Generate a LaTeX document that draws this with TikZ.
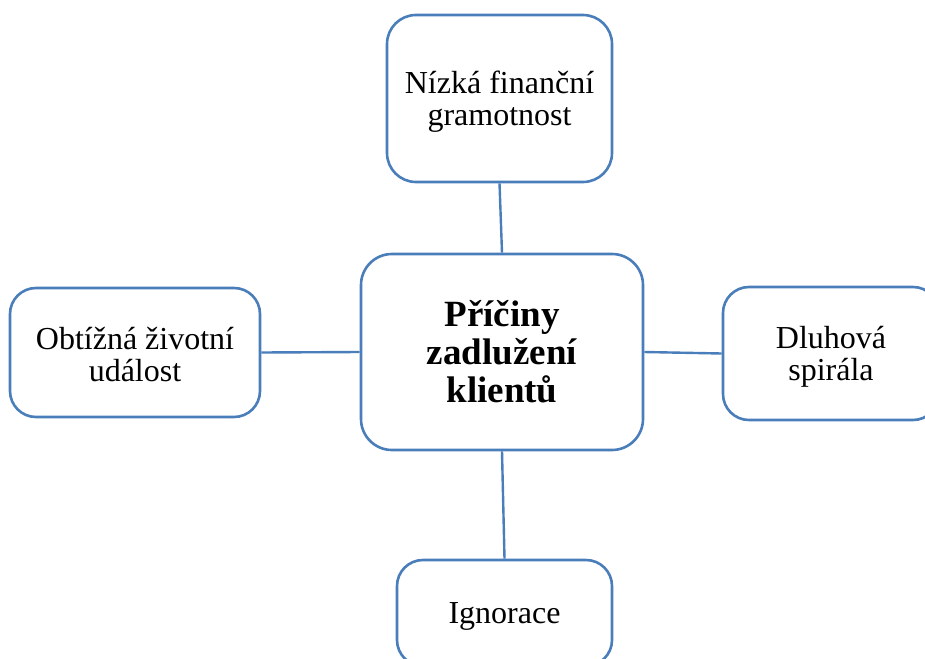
\documentclass[tikz,border=0pt]{standalone}
\usepackage{fontspec}
\setmainfont{Liberation Serif}
\definecolor{edgeblue}{RGB}{74,126,187}
\begin{document}
\begin{tikzpicture}[x=1pt,y=-1pt,
  box/.style={draw=edgeblue, line width=2.6pt, fill=white, rounded corners=26pt, inner sep=0pt},
  lbl/.style={align=center, inner sep=0pt, font=\fontsize{32}{32}\selectfont},
  link/.style={draw=edgeblue, line width=2.4pt}]
\useasboundingbox (0,0) rectangle (925,658);
\clip (0,0) rectangle (925,658);
\node[box, rounded corners=29pt, minimum width=225pt, minimum height=167pt] (top) at (499.5,98.5) {};
\node[lbl] (ttop) at ([yshift=-3pt]top.center) {Nízká finanční\\gramotnost};
\node[box, rounded corners=31pt, minimum width=282pt, minimum height=196pt] (mid) at (502,352) {};
\node[lbl, font=\fontsize{37}{38}\selectfont\bfseries] (tmid) at (mid.center) {Příčiny\\zadlužení\\klientů};
\node[box, minimum width=250pt, minimum height=129pt] (left) at (135,352.5) {};
\node[lbl] (tleft) at ([yshift=-2pt]left.center) {Obtížná životní\\událost};
\node[box, minimum width=216pt, minimum height=133pt] (right) at (831,353.5) {};
\node[lbl] (tright) at ([yshift=-3pt]right.center) {Dluhová\\spirála};
\node[box, minimum width=215pt, minimum height=106pt] (bot) at (504.5,613) {};
\node[lbl] (tbot) at ([yshift=-3pt]bot.center) {Ignorace};
\draw[link] (top.south) -- (mid.north);
\draw[link] (left.east) -- (mid.west);
\draw[link] (mid.east) -- (right.west);
\draw[link] (mid.south) -- (bot.north);
\end{tikzpicture}
\end{document}
